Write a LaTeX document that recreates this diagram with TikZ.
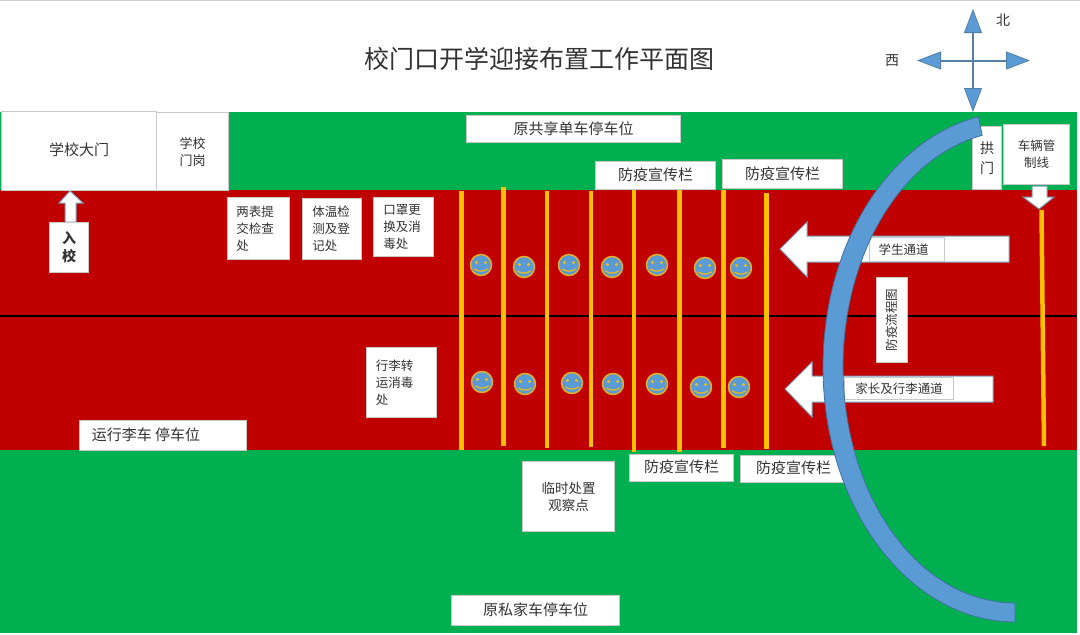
\documentclass[tikz,border=0pt]{standalone}
\usepackage{fontspec}
\setmainfont{Noto Sans CJK SC}
\usetikzlibrary{arrows.meta}
\definecolor{rd}{HTML}{C00000}
\definecolor{gr}{HTML}{00B050}
\definecolor{bl}{HTML}{5B9BD5}
\definecolor{bld}{HTML}{41719C}
\definecolor{yl}{HTML}{FFC000}
\definecolor{edge}{HTML}{C8C8C8}
\tikzset{
  x=1pt,y=-1pt,
  tbox/.style={draw=edge,line width=1pt,fill=white,text=black!80,inner sep=0pt,align=center,font=\fontsize{#1}{17}\selectfont},
  tbox/.default=14,
  lane/.style={draw=yl,line width=4.5pt},
  blockarrow/.style={fill=white,draw=bld!70,line width=1pt},
  compass/.style={draw=bld!90,line width=2pt,-{Triangle[length=24pt,width=18pt,fill=bl,line width=0.8pt]}},
  plain/.style={text=black!80,inner sep=0pt,font=\fontsize{#1}{#1}\selectfont},
}
\newcommand{\boxat}[6][]{\node[tbox=#6,minimum width=#4-#2,minimum height=#5-#3,anchor=north west,#1] at (#2,#3)}
\newcommand{\smiley}[2]{%
  \begin{scope}[shift={(#1,#2)}]
    \fill[bl,draw=yl!80!bl!95!red,line width=1.5pt] (0,0) circle[radius=10.5];
    \fill[yl!90!bl] (-4.5,-2.5) circle[radius=1.7] (4.5,-2.5) circle[radius=1.7];
    \draw[yl!90!bl,line width=1.2pt] (-6.5,4) .. controls (-3,6.8) and (3,6.8) .. (6.5,4);
  \end{scope}}
\begin{document}
\begin{tikzpicture}
\useasboundingbox (0,0) rectangle (1080,635);
\fill[white] (0,0) rectangle (1080,635);
\draw[black!20,line width=0.8pt] (0,0.5) -- (1080,0.5);
\fill[gr] (0,112) rectangle (1077,190);
\fill[rd] (0,190) rectangle (1077,450);
\fill[gr] (0,450) rectangle (1077,632.5);
\draw[black,line width=2pt] (0,315.5) -- (1077,315.5);
% lanes
\foreach \xa/\ya/\yb in {461.5/191/450,503.5/187/446,547/191/448,591/191/447,634/190/452,679.5/190/452,723.5/190/448,766.5/193/449}
  \draw[lane] (\xa,\ya) -- (\xa,\yb);
\draw[lane] (1041.5,210) -- (1044,446);
% smileys
\foreach \p/\q in {481/265,524/267,569/265,612/267,657/265,705/268,741/268,482/382,525/384,572/383,613/384,657/384,701/387,739/387}
  \smiley{\p}{\q};
% block arrows
\draw[blockarrow] (780,249) -- (807,222) -- (807,236) -- (1009,236) -- (1009,262) -- (807,262) -- (807,277) -- cycle;
\draw[blockarrow] (785,389) -- (812,362) -- (812,376) -- (993,376) -- (993,402) -- (812,402) -- (812,417) -- cycle;
\draw[blockarrow] (70,191) -- (83,203) -- (76,203) -- (76,222) -- (65,222) -- (65,203) -- (59,203) -- cycle;
\draw[blockarrow] (1032,186) -- (1047,186) -- (1047,197) -- (1054,197) -- (1039,209) -- (1023,197) -- (1032,197) -- cycle;
% boxes
\boxat{1}{111}{156}{190}{15} (b1) {\raisebox{3pt}{学校大门}};
\boxat{156}{112}{228}{190}{13} (b2) {学校\\门岗};
\boxat[align=left]{227}{197}{289}{259}{12.5} (b3) {两表提\hspace*{7pt}\\交检查\\处};
\boxat[align=left]{302}{198}{361}{259}{12.5} (b4) {体温检\hspace*{2pt}\\测及登\\记处};
\boxat[align=left]{373}{197}{433}{256}{12.5} (b5) {口罩更\hspace*{3pt}\\换及消\\毒处};
\boxat[font=\fontsize{14}{18}\selectfont\bfseries]{49}{222}{88}{272}{14} (b6) {入\\校};
\boxat{466}{115}{680}{142}{15} (b7) {\raisebox{1pt}{原共享单车停车位}};
\boxat{595}{161}{715}{189}{15} (b8) {\raisebox{3pt}{防疫宣传栏}};
\boxat{722}{159}{842}{188}{15} (b9) {\raisebox{2pt}{防疫宣传栏}};
\boxat{629}{454}{733}{481}{15} (b10) {\raisebox{3pt}{防疫宣传栏}};
\boxat{740}{455}{846}{482}{15} (b11) {\raisebox{3pt}{防疫宣传栏}};
\boxat{972}{126}{1001}{189}{14} (b12) {拱\\[3pt]门};
\boxat{1003}{124}{1069}{184}{12.5} (b13) {车辆管\\制线};
\boxat{869}{237}{944}{261}{12.5} (b14) {学生通道\hspace*{7pt}};
\boxat{844}{377}{953}{399}{12.5} (b15) {家长及行李通道};
\boxat{876}{277}{907}{362}{12.5} (b16) {};
\node[plain=12.5,rotate=90] at (b16.center) {防疫流程图};
\boxat[align=left]{366}{347}{436}{417}{12.5} (b17) {行李转\hspace*{14pt}\\运消毒\\处};
\boxat{79}{420}{246}{450}{15} (b18) {\raisebox{2pt}{运行李车 停车位}\hspace*{34pt}};
\boxat{522}{461}{614}{531}{13.5} (b19) {临时处置\\观察点};
\boxat{451}{595}{619}{625}{15} (b20) {\raisebox{3pt}{原私家车停车位}};
% curved road
\fill[bl,draw=bld,line width=0.8pt]
  plot[domain=90:259,samples=80] ({1015+192*cos(\x)},{367+255*sin(\x)})
  -- plot[domain=259:90,samples=80] ({1015+172*cos(\x)},{367+236*sin(\x)}) -- cycle;
% title and compass
\node[plain=25] (title) at (539,59) {校门口开学迎接布置工作平面图};
\node[plain=14] (n) at (1003,20) {北};
\node[plain=14] (w) at (892,61) {西};
\coordinate (c) at (973,60.5);
\coordinate (cn) at (973,9);
\coordinate (cs) at (973,112);
\coordinate (cw) at (917,60.5);
\coordinate (ce) at (1030,60.5);
\draw[compass] (c) -- (cn);
\draw[compass] (c) -- (cs);
\draw[compass] (c) -- (cw);
\draw[compass] (c) -- (ce);
\end{tikzpicture}
\end{document}
